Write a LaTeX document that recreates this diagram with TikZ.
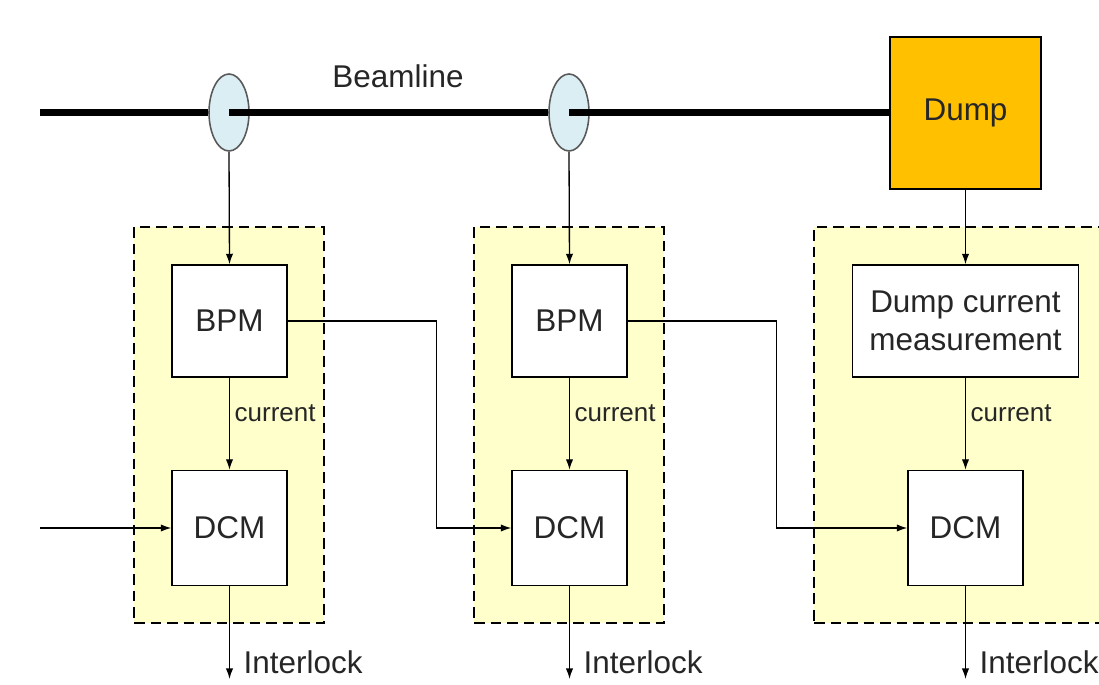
\documentclass[tikz,border=0pt]{standalone}
\usepackage{fontspec}
\setmainfont{Liberation Sans}
\usetikzlibrary{arrows, arrows.meta, positioning, shapes.geometric}

\definecolor{ringblue}{HTML}{DAEEF3}
\definecolor{dumporange}{HTML}{FFC000}
\definecolor{grpyellow}{HTML}{FFFFCC}

\begin{document}
\begin{tikzpicture}[x=0.02cm, y=-0.02cm, >={Latex[length=6pt,width=4.2pt]}, line width=0.75pt,
	every node/.style={font=\fontsize{17.9}{21.5}\selectfont, text=black!85},
	block/.style={draw, fill=white, line width=0.8pt, inner sep=0pt, align=center, minimum width=2.3cm, minimum height=2.24cm},
	grp/.style={draw, fill=grpyellow, line width=0.9pt, dash pattern=on 6pt off 3.4pt, inner sep=0pt},
	ring/.style={ellipse, draw=black!65, fill=ringblue, line width=0.9pt, inner sep=0pt, minimum width=0.8cm, minimum height=1.54cm},
	beam/.style={line width=3.9pt},
	small/.style={font=\fontsize{14.8}{17}\selectfont, anchor=west, inner sep=0pt}]
	\useasboundingbox (0,0) rectangle (1099,685);

	% dashed groups
	\node[grp, minimum width=3.8cm, minimum height=7.92cm] at (229,425) (grp1){};
	\node[grp, minimum width=3.8cm, minimum height=7.92cm] at (569,425) (grp2){};
	\node[grp, minimum width=5.92cm, minimum height=7.92cm] at (962,425) (grp3){};

	% beamline
	\node[ring] at (229,112.5) (ring1){};
	\node[ring] at (569,112.5) (ring2){};
	\node[block, fill=dumporange, minimum width=3.02cm, minimum height=3.04cm] at (965.5,113) (dump){Dump};
	\node at (398,76) (beamlbl){Beamline};
	\coordinate (beamin) at (40,112.5);
	\draw[beam] (beamin) -- (ring1.west);
	\draw[beam] (ring1.center) -- (ring2.west);
	\draw[beam] (ring2.center) -- (dump.west |- ring2.center);

	% blocks
	\begin{scope}[every node/.append style={block}]
	\node at (229.5,321) (bpm1){BPM};
	\node at (569.5,321) (bpm2){BPM};
	\node[minimum width=4.52cm] at (965.5,321) (meas){Dump current\\measurement};
	\node[minimum height=2.3cm] at (229.5,528) (dcm1){DCM};
	\node[minimum height=2.3cm] at (569.5,528) (dcm2){DCM};
	\node[minimum height=2.3cm] at (965.5,528) (dcm3){DCM};
	\end{scope}

	\coordinate (dcmin) at (40,528);
	\coordinate (out1) at (229.5,679);
	\coordinate (out2) at (569.5,679);
	\coordinate (out3) at (965.5,679);

	\draw[->] (ring1.south) -- (bpm1.north);
	\draw[->] (ring2.south) -- (bpm2.north);
	\draw[->] (dump.south) -- (meas.north);
	\draw[->] (bpm1.south) -- (dcm1.north);
	\draw[->] (bpm2.south) -- (dcm2.north);
	\draw[->] (meas.south) -- (dcm3.north);
	\draw[->] (dcmin) -- (dcm1.west);
	\draw[->] (bpm1.east) -- ++(149,0) |- (dcm2.west);
	\draw[->] (bpm2.east) -- ++(149,0) |- (dcm3.west);
	\draw[->] (dcm1.south) -- (out1);
	\draw[->] (dcm2.south) -- (out2);
	\draw[->] (dcm3.south) -- (out3);

	% labels
	\node[small] at (234,413) (cur1){current};
	\node[small] at (574,413) (cur2){current};
	\node[small] at (970,413) (cur3){current};
	\node[small, font=\fontsize{17.9}{21.5}\selectfont] at (243,662) (ilk1){Interlock};
	\node[small, font=\fontsize{17.9}{21.5}\selectfont] at (583,662) (ilk2){Interlock};
	\node[small, font=\fontsize{17.9}{21.5}\selectfont] at (979,662) (ilk3){Interlock};
\end{tikzpicture}
\end{document}
